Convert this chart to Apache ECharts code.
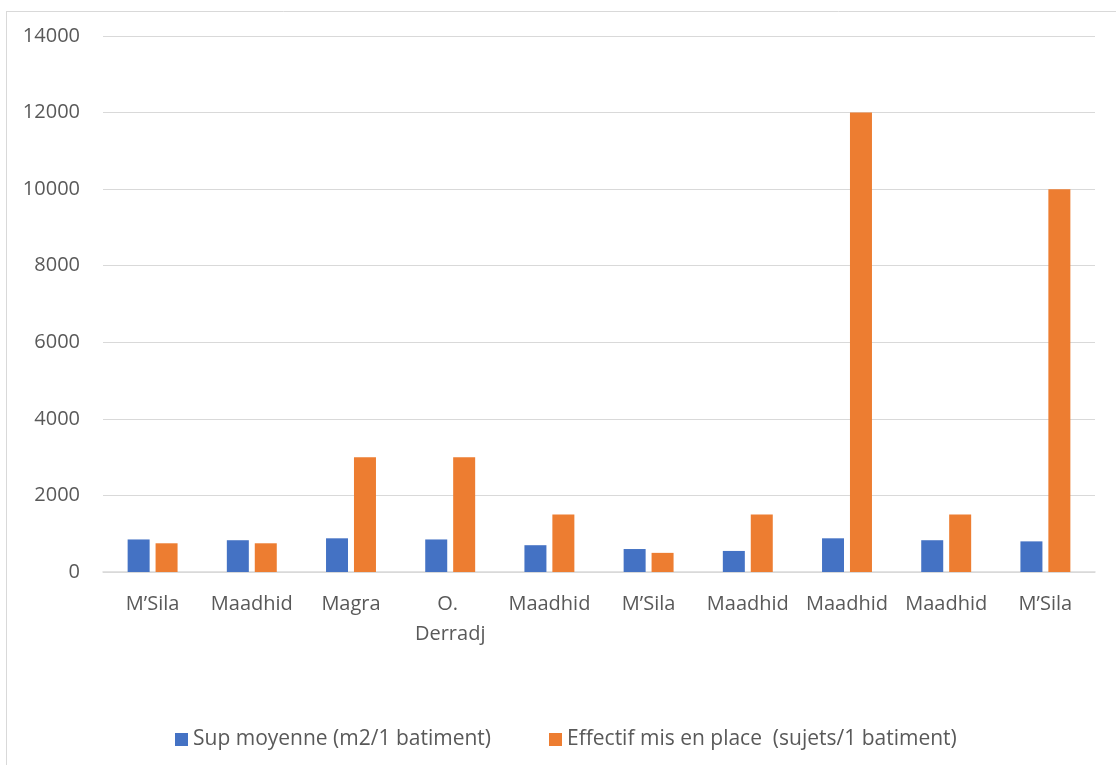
<!DOCTYPE html>
<html>
<head>
<meta charset="utf-8">
<script src="https://cdn.jsdelivr.net/npm/echarts@6/dist/echarts.min.js"></script>
<style>
  html, body { margin: 0; padding: 0; background: #ffffff; }
  #chart { width: 1116px; height: 765px; }
</style>
</head>
<body>
<div id="chart"></div>
<script>
// Poultry buildings: average floor area and number of birds placed per building
const categories = ["M\u2019Sila", "Maadhid", "Magra", "O. Derradj", "Maadhid", "M\u2019Sila", "Maadhid", "Maadhid", "Maadhid", "M\u2019Sila"];
const surfaceValues = [850, 830, 880, 850, 700, 600, 550, 880, 830, 800];
const effectifValues = [750, 750, 3000, 3000, 1500, 500, 1500, 12000, 1500, 10000];
const seriesNames = ["Sup moyenne (m2/1 batiment)", "Effectif mis en place  (sujets/1 batiment)"];
const yTicks = { min: 0, max: 14000, interval: 2000 };

const textColor = "#595959";
const lineColor = "#d9d9d9";
const fontFamily = "'Open Sans', sans-serif";

const chart = echarts.init(document.getElementById("chart"), null, { renderer: "canvas" });

chart.setOption({
  backgroundColor: "#ffffff",
  animation: false,
  textStyle: { fontFamily: fontFamily },
  graphic: [
    { type: "line", shape: { x1: 6, y1: 11.5, x2: 1116, y2: 11.5 }, style: { stroke: lineColor, lineWidth: 1 } },
    { type: "line", shape: { x1: 6.5, y1: 11, x2: 6.5, y2: 765 }, style: { stroke: lineColor, lineWidth: 1 } }
  ],
  grid: { left: 103, right: 21, top: 36, bottom: 193, containLabel: false },
  legend: {
    left: 170,
    top: 724,
    itemWidth: 13,
    itemHeight: 13,
    itemGap: 58,
    icon: "rect",
    textStyle: { color: textColor, fontSize: 21, fontFamily: fontFamily },
    data: seriesNames
  },
  xAxis: {
    type: "category",
    data: categories,
    axisLine: { show: true, lineStyle: { color: lineColor, width: 1.5 } },
    axisTick: { show: false },
    axisLabel: {
      color: textColor,
      fontSize: 20,
      margin: 17,
      width: 92,
      overflow: "break",
      lineHeight: 30,
      interval: 0
    }
  },
  yAxis: {
    type: "value",
    min: yTicks.min,
    max: yTicks.max,
    interval: yTicks.interval,
    axisLine: { show: false },
    axisTick: { show: false },
    splitLine: { lineStyle: { color: lineColor, width: 1 } },
    axisLabel: {
      color: textColor,
      fontSize: 20,
      margin: 23,
      formatter: (v) => String(v)
    }
  },
  series: [
    {
      name: seriesNames[0],
      type: "bar",
      data: surfaceValues,
      barWidth: 22,
      barGap: "27%",
      itemStyle: { color: "#4472C4" }
    },
    {
      name: seriesNames[1],
      type: "bar",
      data: effectifValues,
      barWidth: 22,
      itemStyle: { color: "#ED7D31" }
    }
  ]
});
</script>
</body>
</html>
